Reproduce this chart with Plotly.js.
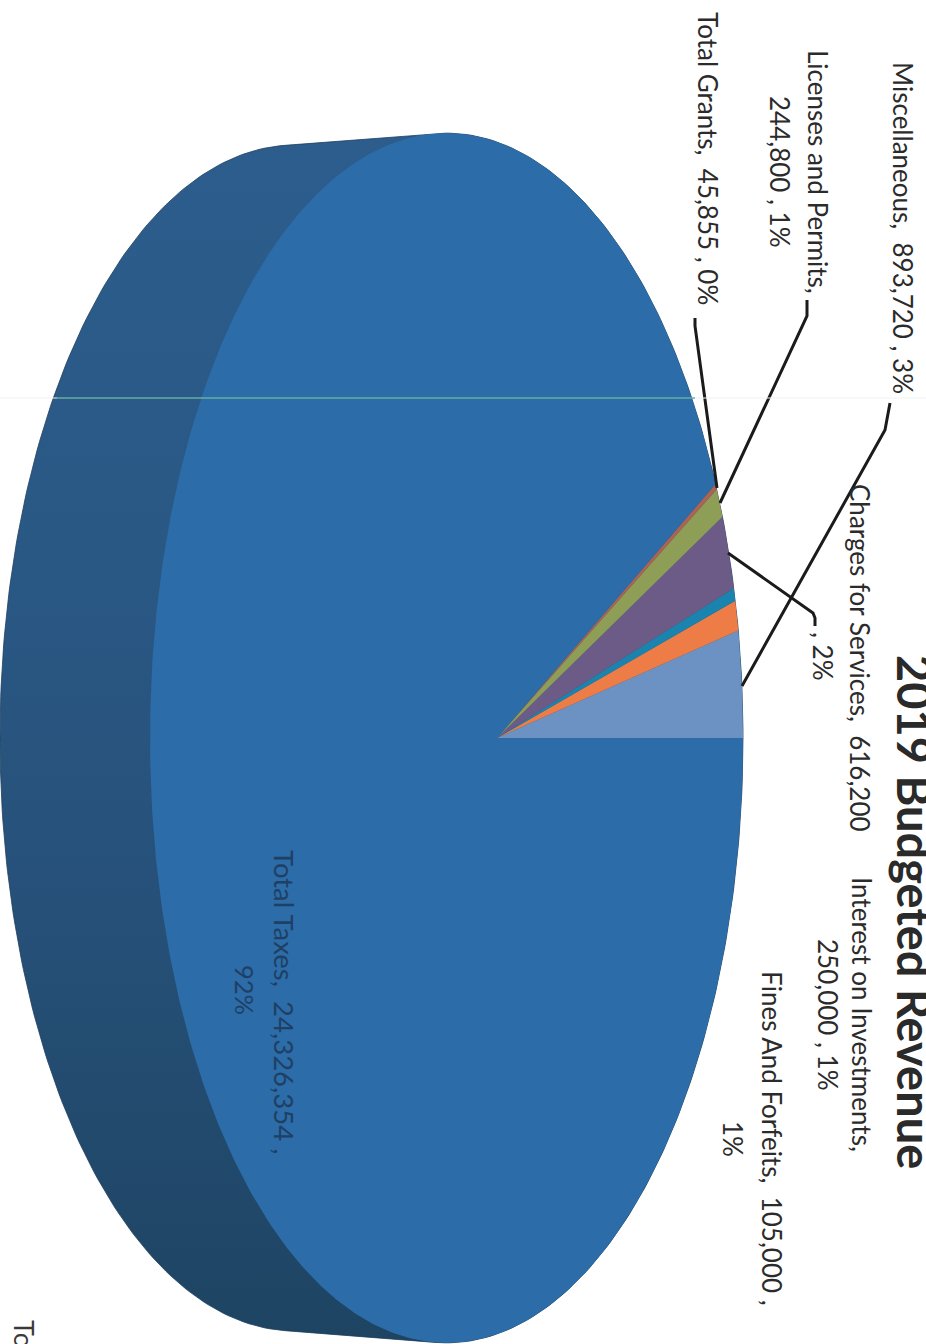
<!DOCTYPE html>
<html>
<head>
<meta charset="utf-8">
<script src="https://cdn.plot.ly/plotly-3.0.1.min.js"></script>
<style>html,body{margin:0;padding:0;background:#fff;overflow:hidden}#chart{width:926px;height:1344px}</style>
</head>
<body>
<div id="chart"></div>
<script>
// 2019 budgeted revenue, printed sideways as a tilted 3D pie.
const categories = ["Miscellaneous", "Interest on Investments", "Fines And Forfeits", "Charges for Services", "Licenses and Permits", "Total Grants", "Total Taxes"];
const values = [893720, 250000, 105000, 616200, 244800, 45855, 24326354];
const sliceColors = ["#6c92c4", "#ee7c46", "#1b84ae", "#6c5b86", "#8f9e56", "#ae6250", "#2c6ca8"];

const titleText = "2019 Budgeted Revenue";
const labelLines = ["Miscellaneous,  893,720 , 3%", "Licenses and Permits,", "244,800 , 1%", "Total Grants,  45,855 , 0%", "Charges for Services,  616,200", ", 2%", "Interest on Investments,", "250,000 , 1%", "Fines And Forfeits,  105,000 ,", "1%"];
const labelX = [903, 818, 780, 708, 860, 823, 862, 828, 772, 733];
const labelY = [228, 172, 172, 158, 658, 656, 1014, 1015, 1138, 1139];
const taxLines = ["Total Taxes,  24,326,354 ,", "92%"];
const taxX = [285, 245];
const taxY = [1002, 990];

const leaders = [
  {x: [742, 885, 890], y: [686, 430, 403]},
  {x: [720, 803, 807, 807], y: [503, 325, 316, 300]},
  {x: [717, 695, 695], y: [488, 326, 318]},
  {x: [728, 813, 815, 815], y: [553, 613, 618, 626]}
];

// Perspective model of the top face: a unit circle projected so that the
// pie centre lands off the middle of the rim ellipse.
const centre = {x: 497, y: 738};
const persp = {c: 0.1703, a: 287.9, d: 596};
function project(angle) {
  const u = Math.cos(angle), v = Math.sin(angle), w = 1 + persp.c * u;
  return [centre.x + persp.a * u / w, centre.y - persp.d * v / w];
}

// Far edge of the disc, used to build the side wall.
const back = {x: 295, y: 738, rx: 295, ry: 593};

function hull(points) {
  const p = points.slice().sort((a, b) => a[0] - b[0] || a[1] - b[1]);
  const cross = (o, a, b) => (a[0]-o[0])*(b[1]-o[1]) - (a[1]-o[1])*(b[0]-o[0]);
  const half = list => {
    const out = [];
    for (const q of list) {
      while (out.length > 1 && cross(out[out.length-2], out[out.length-1], q) <= 0) out.pop();
      out.push(q);
    }
    out.pop();
    return out;
  };
  return half(p).concat(half(p.reverse()));
}

const traces = [];
const rim = [], farRim = [];
for (let i = 0; i < 360; i++) {
  const t = i * Math.PI / 180;
  rim.push(project(t));
  farRim.push([back.x + back.rx * Math.cos(t), back.y + back.ry * Math.sin(t)]);
}
const wall = hull(rim.concat(farRim));
wall.push(wall[0]);
traces.push({
  type: "scatter", mode: "lines", name: "side wall",
  x: wall.map(p => p[0]), y: wall.map(p => p[1]),
  fill: "toself", line: {width: 0.8, color: "#1d3f5e"},
  fillgradient: {type: "vertical", colorscale: [[0, "#1e4462"], [0.35, "#265078"], [0.65, "#2a5885"], [1, "#2c5d8c"]]},
  hoverinfo: "skip"
});

// Slices run counter-clockwise from the right-hand end of the horizontal radius.
const total = values.reduce((a, b) => a + b, 0);
let running = 0;
categories.forEach((name, i) => {
  const start = running / total * 2 * Math.PI;
  running += values[i];
  const end = running / total * 2 * Math.PI;
  const n = Math.max(4, Math.ceil((end - start) / 0.01));
  const xs = [centre.x], ys = [centre.y];
  for (let k = 0; k <= n; k++) {
    const p = project(start + (end - start) * k / n);
    xs.push(p[0]); ys.push(p[1]);
  }
  xs.push(centre.x); ys.push(centre.y);
  traces.push({
    type: "scatter", mode: "lines", name: name, x: xs, y: ys,
    fill: "toself", fillcolor: sliceColors[i], line: {width: 0},
    text: name + ": " + values[i].toLocaleString("en-US"), hoverinfo: "text"
  });
});

leaders.forEach(l => traces.push({
  type: "scatter", mode: "lines", x: l.x, y: l.y,
  line: {color: "#1b1b1b", width: 3}, hoverinfo: "skip"
}));

// Crease across the sheet and the green hairline where it crosses the pie.
traces.push({type: "scatter", mode: "lines", x: [0, 926], y: [398, 398], line: {color: "#f1f1f1", width: 1}, hoverinfo: "skip"});
traces.push({type: "scatter", mode: "lines", x: [57, 695], y: [398, 398], line: {color: "#1f8c7c", width: 1.2}, hoverinfo: "skip"});

const sideways = (text, x, y, size, color) => ({
  text: text, x: x, y: y, xref: "x", yref: "y", showarrow: false, textangle: 90,
  xanchor: "center", yanchor: "middle",
  font: {family: "Lato, 'Open Sans', sans-serif", size: size, color: color}
});

const annotations = labelLines.map((t, i) => sideways(t, labelX[i], labelY[i], 26, "#2b2b2b"));
taxLines.forEach((t, i) => annotations.push(sideways(t, taxX[i], taxY[i], i ? 25.5 : 27.5, "#1f4064")));
annotations.push(sideways("<b>" + titleText + "</b>", 915, 912, 47, "#2a2a2a"));
annotations.push(sideways("To", 25, 1334, 27, "#3a3a3a"));

Plotly.newPlot("chart", traces, {
  width: 926, height: 1344,
  margin: {l: 0, r: 0, t: 0, b: 0},
  showlegend: false,
  paper_bgcolor: "#ffffff", plot_bgcolor: "#ffffff",
  xaxis: {range: [0, 926], visible: false, fixedrange: true},
  yaxis: {range: [1344, 0], visible: false, fixedrange: true},
  annotations: annotations
}, {displayModeBar: false});
</script>
</body>
</html>
